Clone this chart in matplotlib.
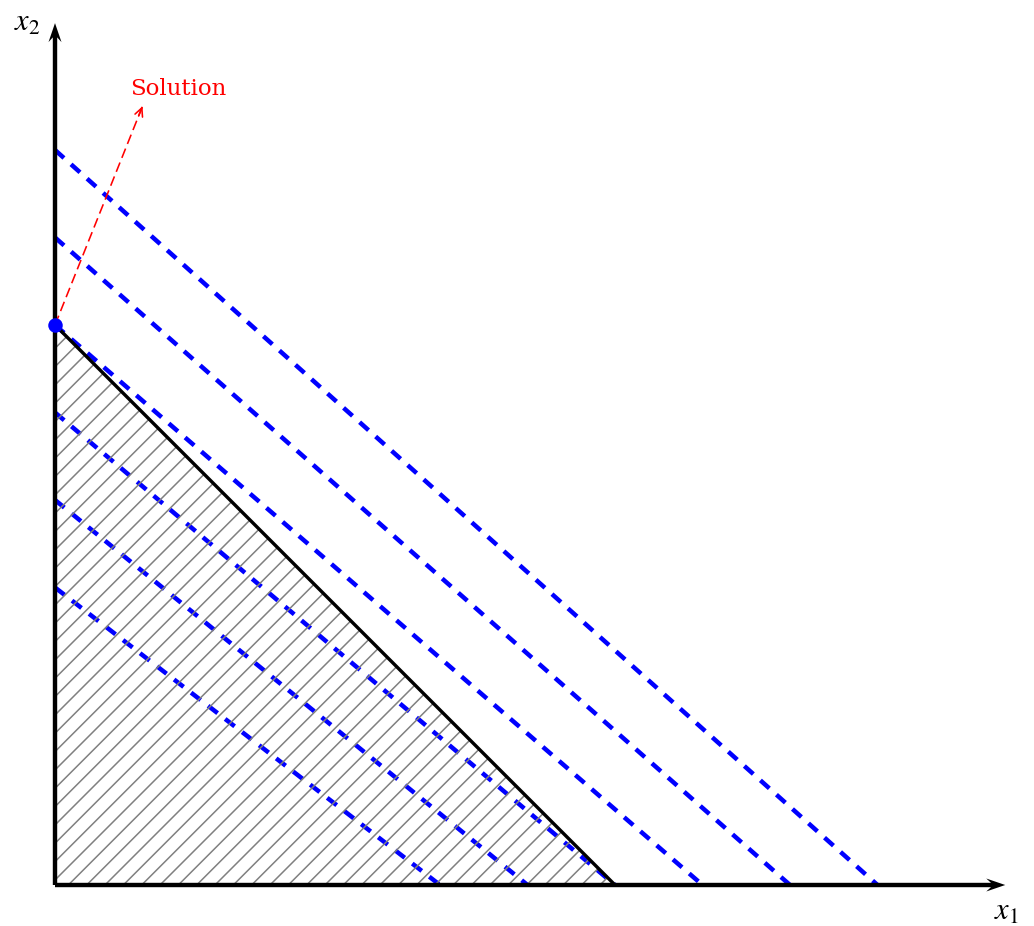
import matplotlib
matplotlib.use("Agg")
import matplotlib.pyplot as plt
from matplotlib.patches import Polygon
import numpy as np

# ---- data (chart units) ----
obj_x_intercepts = [4.4, 5.4, 6.4, 7.4, 8.4, 9.4]
obj_y_intercepts = [3.4, 4.4, 5.4, 6.4, 7.4, 8.4]
constraint_x = [6.4, 0.0]
constraint_y = [0.0, 6.4]
feasible_x = [0.0, 6.4, 0.0]
feasible_y = [0.0, 0.0, 6.4]
solution_pt = (0.0, 6.4)
solution_arrow_tip = (1.0, 8.9)
solution_label = "Solution"
axis_x_end = 10.86
axis_y_end = 9.85

DPI = 110
W, H = 1034, 926
PX = 87.5          # pixels per unit
OX, OY = 55, 885   # origin pixel (from top)

plt.rcParams['mathtext.fontset'] = 'stix'
plt.rcParams['hatch.linewidth'] = 1.0
fig = plt.figure(figsize=(W / DPI, H / DPI), dpi=DPI)
ax = fig.add_axes([0, 0, 1, 1])
ax.set_xlim(-OX / PX, (W - OX) / PX)
ax.set_ylim(-(H - OY) / PX, OY / PX)
ax.axis('off')

def pt(px):
    return px * 72.0 / DPI

# objective lines
lw_b = pt(4.5)
for a, b in zip(obj_x_intercepts, obj_y_intercepts):
    ax.plot([0, a], [b, 0], color=(0, 0, 1), lw=lw_b,
            linestyle=(0, (pt(12) / lw_b, pt(9.5) / lw_b)),
            solid_capstyle='butt', dash_capstyle='butt', zorder=2)

# feasible region hatch
poly = Polygon(np.column_stack([feasible_x, feasible_y]), closed=True,
               facecolor='none', edgecolor='gray', hatch='//', lw=0, zorder=3)
ax.add_patch(poly)

# constraint line
ax.plot(constraint_x, constraint_y, color='black', lw=pt(3.4),
        solid_capstyle='butt', zorder=4)

# axes arrows
aw = 4.4 / PX
ax.arrow(0, 0, axis_x_end, 0, width=aw, head_width=13 / PX, head_length=19 / PX,
         length_includes_head=True, overhang=0.25, color='black', lw=0, zorder=5)
ax.arrow(0, 0, 0, axis_y_end, width=aw, head_width=13 / PX, head_length=19 / PX,
         length_includes_head=True, overhang=0.25, color='black', lw=0, zorder=5)

# solution arrow
sx, sy = solution_pt
tx, ty = solution_arrow_tip
lw_r = pt(1.6)
ax.plot([sx, tx], [sy, ty], color=(1, 0, 0), lw=lw_r,
        linestyle=(0, (pt(10) / lw_r, pt(5) / lw_r)), zorder=5)
d = np.array([tx - sx, ty - sy])
d = d / np.hypot(*d)
ax.annotate('', xy=(tx, ty), xytext=(tx - d[0] * 0.12, ty - d[1] * 0.12),
            arrowprops=dict(arrowstyle='->,head_length=0.45,head_width=0.22',
                            color=(1, 0, 0), lw=lw_r, shrinkA=0, shrinkB=0,
                            mutation_scale=12), zorder=5)
ax.text((178 - OX) / PX, (OY - 95) / PX, solution_label, color=(1, 0, 0),
        fontsize=15, family='DejaVu Serif', ha='center', va='baseline', zorder=6)

# solution point
ax.plot([sx], [sy], 'o', color=(0, 0, 1), ms=pt(14.5), mec='none', zorder=7)

# axis labels
ax.text((27 - OX) / PX, (OY - 22.5) / PX, r'$x_2$', fontsize=20,
        ha='center', va='center', zorder=6)
ax.text((1006 - OX) / PX, (OY - 911.5) / PX, r'$x_1$', fontsize=20,
        ha='center', va='center', zorder=6)

fig.savefig('out.png', dpi=DPI)
